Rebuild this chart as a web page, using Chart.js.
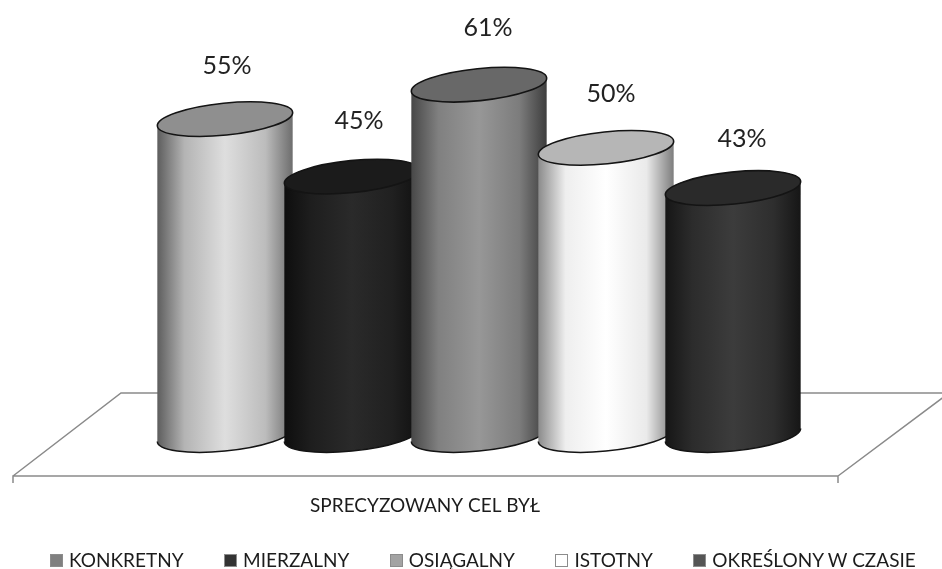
<!DOCTYPE html>
<html lang="pl">
<head>
<meta charset="utf-8">
<title>Sprecyzowany cel</title>
<script src="https://cdn.jsdelivr.net/npm/chart.js@4"></script>
<style>
    html, body { margin: 0; padding: 0; background: #fff; }
    #wrap { position: relative; width: 942px; height: 569px; overflow: hidden; }
    canvas { display: block; }
    #legend {
        position: absolute;
        left: 50px;
        top: 549px;
        display: flex;
        gap: 40.5px;
        white-space: nowrap;
        font: 19px/22px Lato, "Open Sans", sans-serif;
        color: #1c1c1c;
    }
    #legend .item { display: flex; align-items: center; }
    #legend .box {
        width: 13px;
        height: 13px;
        margin-right: 6px;
        box-sizing: border-box;
        border: 1px solid #8c8c8c;
    }
</style>
</head>
<body>
<div id="wrap">
    <canvas id="goalChart" width="942" height="569"></canvas>
    <div id="legend"></div>
</div>
<script>
const categories = ['SPRECYZOWANY CEL BYŁ'];
const seriesNames = ['KONKRETNY', 'MIERZALNY', 'OSIĄGALNY', 'ISTOTNY', 'OKREŚLONY W CZASIE'];
const seriesValues = [55, 45, 61, 50, 43];
const legendColors = ['#808080', '#333333', '#a3a3a3', '#ffffff', '#555555'];

// Shading per cylinder: side gradient stops and the colour of the top face
const sideStops = [
    [[0, '#5e5e5e'], [0.2, '#b4b4b4'], [0.5, '#dedede'], [0.8, '#bcbcbc'], [1, '#6e6e6e']],
    [[0, '#0e0e0e'], [0.2, '#1e1e1e'], [0.5, '#2a2a2a'], [0.8, '#202020'], [1, '#101010']],
    [[0, '#484848'], [0.2, '#808080'], [0.5, '#979797'], [0.8, '#7c7c7c'], [1, '#3e3e3e']],
    [[0, '#8c8c8c'], [0.2, '#eeeeee'], [0.5, '#ffffff'], [0.8, '#eaeaea'], [1, '#7e7e7e']],
    [[0, '#161616'], [0.2, '#2c2c2c'], [0.5, '#3c3c3c'], [0.8, '#2e2e2e'], [1, '#161616']]
];
const topColors = ['#8f8f8f', '#1b1b1b', '#686868', '#b6b6b6', '#2a2a2a'];

// Value labels sit above the cylinder tops, each nudged a little by hand
const labelShiftX = [2, 7, 9, 5, 9];
const labelShiftY = [53, 56, 57, 54, 49];

const TILT = -5.8 * Math.PI / 180;
const FONT = 'Lato, "Open Sans", sans-serif';

// Flat floor under the bars, placed relative to the zero line
function drawFloor(chart) {
    const ctx = chart.ctx;
    const y0 = chart.scales.y.getPixelForValue(0);
    const mid = chart.scales.x.getPixelForValue(0);
    ctx.save();
    ctx.strokeStyle = '#8a8a8a';
    ctx.lineWidth = 1.5;
    ctx.beginPath();
    ctx.moveTo(mid - 466, y0 + 48);
    ctx.lineTo(mid - 466, y0 + 41);
    ctx.lineTo(mid + 359, y0 + 41);
    ctx.lineTo(mid + 359, y0 + 48);
    ctx.moveTo(mid - 466, y0 + 41);
    ctx.lineTo(mid - 358, y0 - 42);
    ctx.lineTo(mid + 470, y0 - 42);
    ctx.lineTo(mid + 359, y0 + 41);
    ctx.stroke();
    ctx.restore();
}

function drawCylinder(ctx, bar, index) {
    const left = bar.x - bar.width / 2;
    const right = bar.x + bar.width / 2;
    const a = bar.width / 2 + 0.5;
    const b = 16;

    // Angle on the ellipse where the outline is widest
    const t0 = Math.atan(-(b / a) * Math.tan(TILT));

    const fill = ctx.createLinearGradient(left, 0, right, 0);
    sideStops[index].forEach(s => fill.addColorStop(s[0], s[1]));

    ctx.save();
    ctx.beginPath();
    ctx.ellipse(bar.x, bar.base, a, b, TILT, t0, t0 + Math.PI);
    ctx.ellipse(bar.x, bar.y, a, b, TILT, t0 + Math.PI, t0 + Math.PI * 2);
    ctx.closePath();
    ctx.fillStyle = fill;
    ctx.fill();

    // Darker rim along the bottom
    ctx.beginPath();
    ctx.ellipse(bar.x, bar.base, a, b, TILT, t0, t0 + Math.PI);
    ctx.lineWidth = 1.5;
    ctx.strokeStyle = '#141414';
    ctx.stroke();

    // Top face
    ctx.beginPath();
    ctx.ellipse(bar.x, bar.y, a, b, TILT, 0, Math.PI * 2);
    ctx.fillStyle = topColors[index];
    ctx.fill();
    ctx.lineWidth = 1.6;
    ctx.strokeStyle = '#141414';
    ctx.stroke();
    ctx.restore();
}

const cylinderPlugin = {
    id: 'cylinders',
    beforeDatasetsDraw(chart) {
        drawFloor(chart);
    },
    // The flat bars are replaced by the cylinders drawn below
    beforeDatasetDraw() {
        return false;
    },
    afterDatasetsDraw(chart) {
        const ctx = chart.ctx;
        chart.data.datasets.forEach((ds, i) => {
            drawCylinder(ctx, chart.getDatasetMeta(i).data[0], i);
        });
        ctx.save();
        ctx.font = '25px ' + FONT;
        ctx.fillStyle = '#222222';
        ctx.textAlign = 'center';
        ctx.textBaseline = 'middle';
        chart.data.datasets.forEach((ds, i) => {
            const bar = chart.getDatasetMeta(i).data[0];
            ctx.fillText(ds.data[0] + '%', bar.x + labelShiftX[i], bar.y - labelShiftY[i]);
        });
        ctx.restore();
    }
};

const goalChart = new Chart(document.getElementById('goalChart'), {
    type: 'bar',
    data: {
        labels: categories,
        datasets: seriesNames.map((name, i) => ({
            label: name,
            data: [seriesValues[i]],
            backgroundColor: legendColors[i]
        }))
    },
    options: {
        responsive: false,
        animation: false,
        layout: { padding: { top: 33, left: 16 } },
        datasets: { bar: { categoryPercentage: 635 / 926, barPercentage: 135 / 127 } },
        plugins: {
            legend: { display: false },
            tooltip: { enabled: false }
        },
        scales: {
            x: {
                grid: { display: false },
                border: { display: false },
                ticks: {
                    color: '#1c1c1c',
                    font: { family: FONT, size: 19 },
                    padding: 51,
                    labelOffset: -54,
                    maxRotation: 0
                },
                afterFit(scale) { scale.height = 134; }
            },
            y: {
                display: false,
                min: 0,
                max: 70
            }
        }
    },
    plugins: [cylinderPlugin]
});

// Legend row built from the datasets
const legendEl = document.getElementById('legend');
goalChart.data.datasets.forEach(ds => {
    const item = document.createElement('div');
    item.className = 'item';
    const box = document.createElement('span');
    box.className = 'box';
    box.style.background = ds.backgroundColor;
    const text = document.createElement('span');
    text.textContent = ds.label;
    item.appendChild(box);
    item.appendChild(text);
    legendEl.appendChild(item);
});
</script>
</body>
</html>
